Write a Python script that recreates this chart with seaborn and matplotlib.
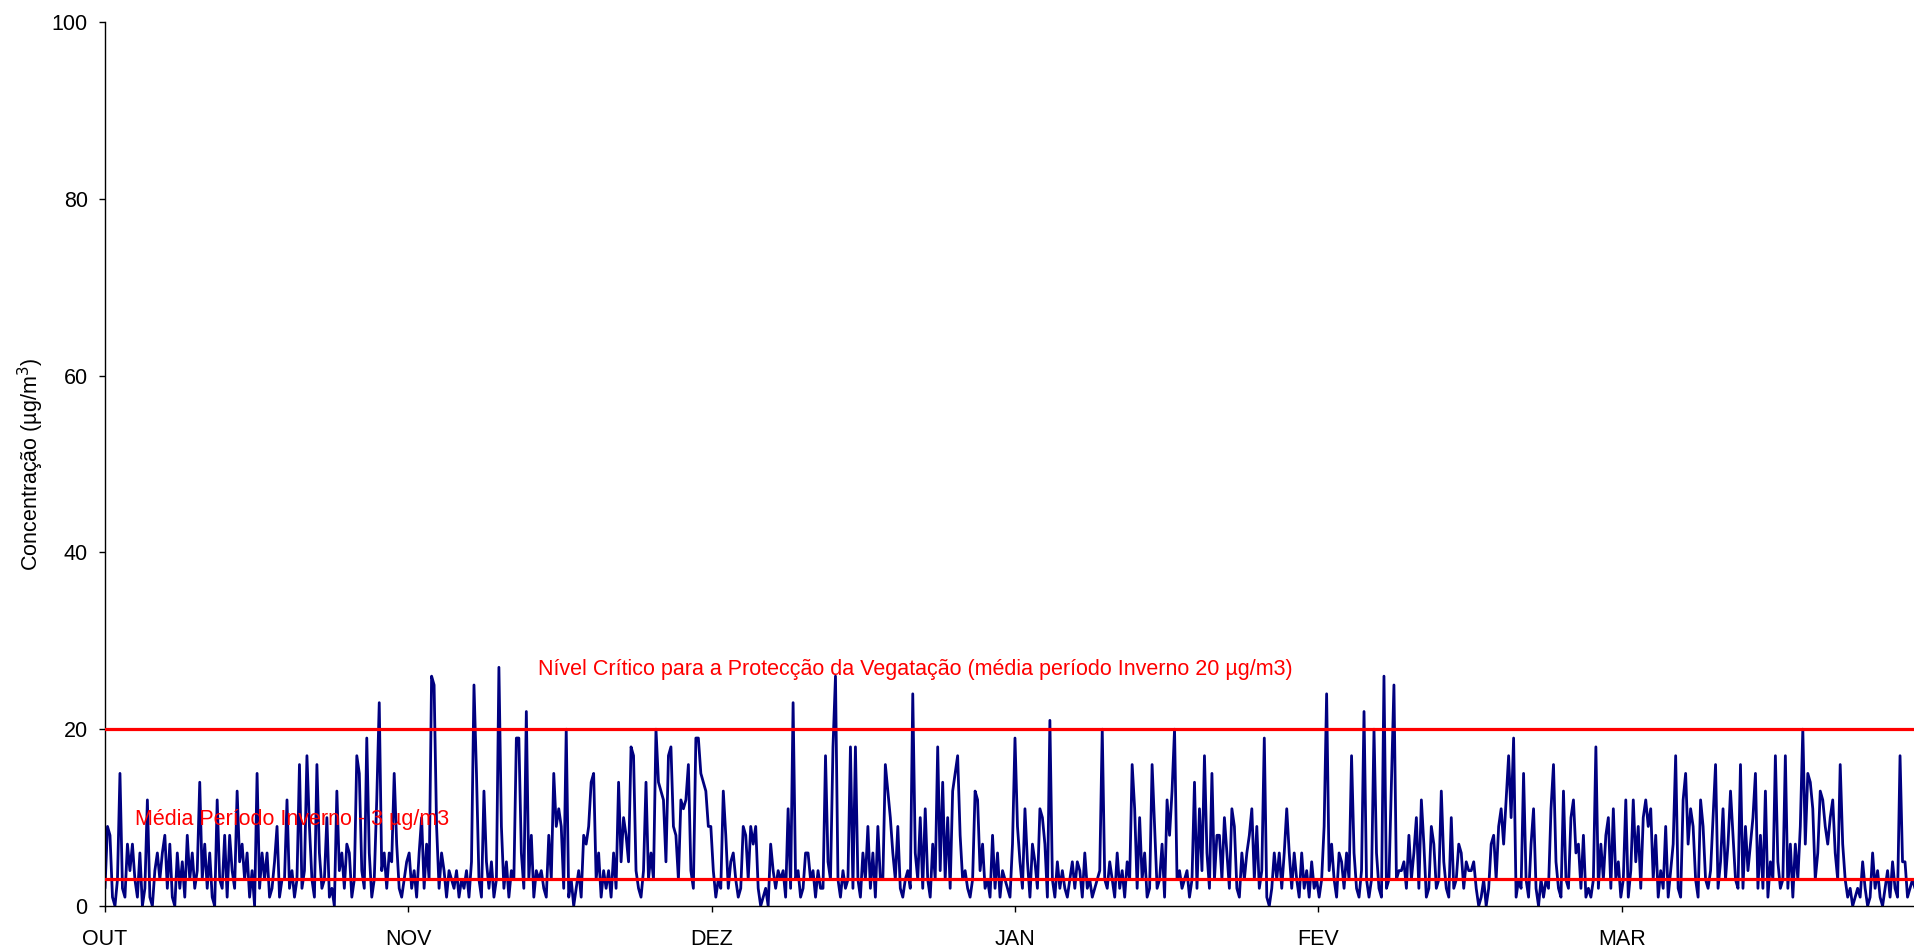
import numpy as np
import pandas as pd
import matplotlib
matplotlib.use("Agg")
import matplotlib.pyplot as plt
import seaborn as sns

# concentração (µg/m3), 4 leituras por dia
out_vals = [2, 9, 8, 1, 0, 3, 15, 2, 1, 7, 4, 7, 3, 1, 6, 0, 2, 12, 1, 0,
            4, 6, 3, 6, 8, 2, 7, 1, 0, 6, 2, 5, 1, 8, 3, 6, 2, 4, 14, 3,
            7, 2, 6, 1, 0, 12, 3, 2, 8, 1, 8, 4, 2, 13, 5, 7, 3, 6, 1, 4,
            0, 15, 2, 6, 3, 6, 1, 2, 5, 9, 1, 3, 3, 12, 2, 4, 1, 3, 16, 2,
            4, 17, 9, 3, 1, 16, 6, 2, 3, 10, 1, 2, 0, 13, 4, 6, 2, 7, 6, 1,
            3, 17, 15, 4, 2, 19, 6, 1, 3, 12, 23, 4, 6, 2, 6, 5, 15, 7, 2, 1,
            3, 5, 6, 2]
nov_vals = [4, 1, 6, 10, 2, 7, 3, 26, 25, 9, 2, 6, 4, 1, 4, 3, 2, 4, 1, 3,
            2, 4, 1, 5, 25, 15, 3, 1, 13, 5, 2, 5, 1, 3, 27, 9, 2, 5, 1, 4,
            3, 19, 19, 6, 2, 22, 3, 8, 1, 4, 3, 4, 2, 1, 8, 3, 15, 9, 11, 9,
            2, 20, 1, 3, 0, 2, 4, 1, 8, 7, 9, 14, 15, 3, 6, 1, 4, 2, 4, 1,
            6, 2, 14, 5, 10, 8, 5, 18, 17, 4, 2, 1, 4, 14, 3, 6, 3, 20, 14, 13,
            12, 5, 17, 18, 9, 8, 3, 12, 11, 12, 16, 4, 2, 19, 19, 15, 14, 13, 9, 9]
dez_vals = [4, 1, 3, 2, 13, 8, 2, 5, 6, 3, 1, 2, 9, 8, 3, 9, 7, 9, 2, 0,
            1, 2, 0, 7, 4, 2, 4, 3, 4, 1, 11, 2, 23, 3, 4, 1, 2, 6, 6, 3,
            4, 1, 4, 2, 2, 17, 5, 3, 18, 26, 3, 1, 4, 2, 3, 18, 2, 18, 3, 1,
            6, 3, 9, 2, 6, 1, 9, 3, 3, 16, 13, 10, 6, 3, 9, 2, 1, 3, 4, 2,
            24, 6, 3, 10, 2, 11, 3, 1, 7, 3, 18, 4, 14, 3, 10, 2, 13, 15, 17, 8,
            3, 4, 2, 1, 3, 13, 12, 4, 7, 2, 3, 1, 8, 2, 6, 1, 4, 3, 2, 1,
            7, 19, 9, 5]
jan_vals = [2, 11, 5, 1, 7, 5, 2, 11, 10, 7, 1, 21, 3, 1, 5, 2, 4, 2, 1, 3,
            5, 2, 5, 4, 1, 6, 2, 3, 1, 2, 3, 4, 20, 3, 2, 5, 3, 1, 6, 2,
            4, 1, 5, 3, 16, 11, 2, 10, 3, 6, 1, 2, 16, 9, 2, 3, 7, 1, 12, 8,
            13, 20, 3, 4, 2, 3, 4, 1, 3, 14, 2, 11, 4, 17, 6, 2, 15, 3, 8, 8,
            3, 10, 6, 2, 11, 9, 2, 1, 6, 3, 6, 8, 11, 3, 9, 2, 4, 19, 1, 0,
            2, 6, 3, 6, 2, 6, 11, 6, 2, 6, 3, 1, 6, 2, 4, 1, 5, 2, 3, 1,
            3, 9, 24, 4]
fev_vals = [7, 3, 1, 6, 5, 2, 6, 3, 17, 6, 2, 1, 4, 22, 3, 1, 3, 20, 6, 2,
            1, 26, 2, 3, 14, 25, 3, 4, 4, 5, 2, 8, 3, 6, 10, 2, 12, 7, 1, 2,
            9, 7, 2, 3, 13, 5, 2, 1, 10, 2, 3, 7, 6, 2, 5, 4, 4, 5, 2, 0,
            1, 3, 0, 2, 7, 8, 3, 9, 11, 7, 12, 17, 10, 19, 1, 3, 2, 15, 3, 1,
            7, 11, 2, 0, 3, 1, 3, 2, 11, 16, 5, 2, 1, 13, 3, 2, 10, 12, 6, 7,
            2, 8, 1, 2, 1, 3, 18, 2, 7, 3, 8, 10]
mar_vals = [2, 11, 3, 5, 1, 3, 12, 1, 4, 12, 5, 9, 2, 10, 12, 9, 11, 3, 8, 1,
            4, 2, 9, 1, 4, 7, 17, 2, 1, 12, 15, 7, 11, 9, 3, 1, 12, 9, 3, 2,
            4, 10, 16, 2, 5, 11, 3, 7, 13, 8, 3, 2, 16, 2, 9, 4, 7, 10, 15, 2,
            8, 2, 13, 1, 5, 3, 17, 5, 2, 3, 17, 2, 7, 1, 7, 3, 9, 20, 7, 15,
            14, 11, 3, 6, 13, 12, 9, 7, 10, 12, 6, 3, 16, 7, 3, 1, 2, 0, 1, 2,
            1, 5, 2, 0, 1, 6, 2, 4, 1, 0, 2, 4, 1, 5, 2, 1, 17, 5, 5, 1,
            2, 3, 2, 1]

month_labels = ["OUT", "NOV", "DEZ", "JAN", "FEV", "MAR"]
critical_level = 20
winter_mean = 3

conc = out_vals + nov_vals + dez_vals + jan_vals + fev_vals + mar_vals
df = pd.DataFrame({"dia": np.arange(len(conc)) / 4, "conc": conc})

sns.set_style("ticks")
plt.rcParams["font.family"] = ["Liberation Sans", "DejaVu Sans"]

fig = plt.figure(figsize=(19.14, 9.51), dpi=100)
ax = fig.add_axes([105 / 1914, 45 / 951, 1809 / 1914, 884 / 951])

sns.lineplot(data=df, x="dia", y="conc", color="#000080", linewidth=2.0, ax=ax, zorder=2)
ax.axhline(critical_level, color="#ff0000", linewidth=2.3, zorder=3)
ax.axhline(winter_mean, color="#ff0000", linewidth=2.3, zorder=3)

ax.text(81.3, 26.8, "Nível Crítico para a Protecção da Vegatação (média período Inverno 20 µg/m3)",
        color="#ff0000", fontsize=15.5, ha="center", va="center", zorder=4)
ax.text(3.0, 9.8, "Média Período Inverno - 3 µg/m3",
        color="#ff0000", fontsize=15.5, ha="left", va="center", zorder=4)

tick_step = 730 / 24
ax.set_xticks([k * tick_step for k in range(len(month_labels))])
ax.set_xticklabels(month_labels)
ax.set_xlim(0, 181.4)
ax.set_ylim(0, 100)
ax.set_yticks(range(0, 101, 20))
ax.tick_params(axis="both", labelsize=15.5, length=4.5, width=1,
               color="black", labelcolor="black")
ax.tick_params(axis="x", pad=12)
ax.tick_params(axis="y", pad=8)
ax.set_xlabel("")
ax.set_ylabel("Concentração (µg/m$^3$)", fontsize=15.5, labelpad=4, color="black")
sns.despine(ax=ax)
for s in ["left", "bottom"]:
    ax.spines[s].set_color("black")
    ax.spines[s].set_linewidth(1)

fig.savefig("out.png", dpi=100)
